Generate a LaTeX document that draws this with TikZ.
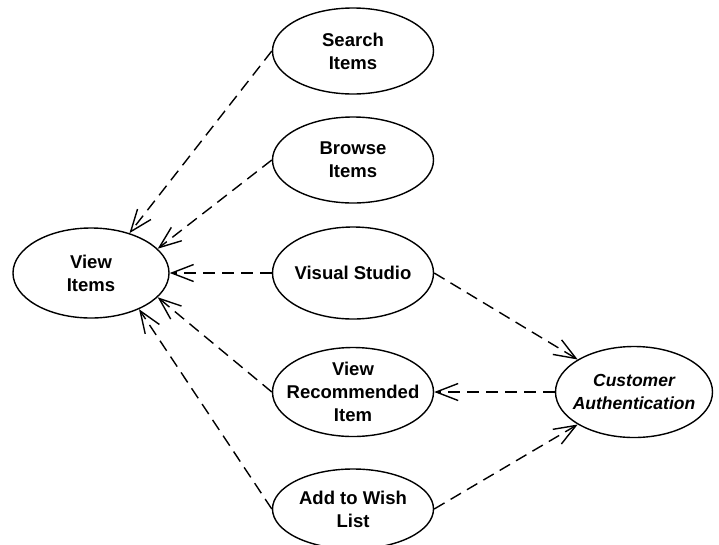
\documentclass[tikz,border=0pt]{standalone}
\usepackage{fontspec}
\setmainfont{Liberation Sans}
\usetikzlibrary{shapes.geometric,arrows.meta}
\begin{document}
\begin{tikzpicture}[x=1pt,y=-1pt,
 uc/.style={ellipse,draw,line width=1.4pt,inner sep=0pt,minimum width=161pt,minimum height=86pt},
 txt/.style={align=center,font=\fontsize{18.5}{23}\selectfont\bfseries},
 itxt/.style={align=center,font=\fontsize{17.5}{23}\selectfont\bfseries\itshape},
 dep/.style={line width=1.4pt,dash pattern=on 12pt off 7pt,-{Straight Barb[length=22pt,width=17pt]}}]
\useasboundingbox (0,0) rectangle (719,544);
\clip (0,0) rectangle (719,544);
\node[uc,minimum width=156pt,minimum height=90pt,label={[txt]center:View\\Items}] (view) at (91,273) {};
\node[uc,label={[txt]center:Search\\Items}] (srch) at (353,51) {};
\node[uc,label={[txt]center:Browse\\Items}] (brws) at (353,160) {};
\node[uc,minimum height=92pt,label={[txt]center:Visual Studio}] (vs) at (353,273) {};
\node[uc,minimum height=89pt,label={[txt]center:View\\Recommended\\Item}] (vrec) at (353,392) {};
\node[uc,minimum height=80pt,label={[txt]center:Add to Wish\\List}] (wish) at (353,509) {};
\node[uc,minimum width=157pt,minimum height=91pt,label={[itxt]center:Customer\\Authentication}] (cust) at (634,392) {};
\draw[dep] (srch.west) -- (view.46);
\draw[dep] (brws.west) -- (view.20);
\draw[dep] (vs.west) -- (view.east);
\draw[dep] (vrec.west) -- (view.-20);
\draw[dep] (wish.west) -- (view.-37);
\draw[dep] (vs.east) -- (cust.150);
\draw[dep] (cust.west) -- (vrec.east);
\draw[dep] (wish.east) -- (cust.210);
\end{tikzpicture}
\end{document}
